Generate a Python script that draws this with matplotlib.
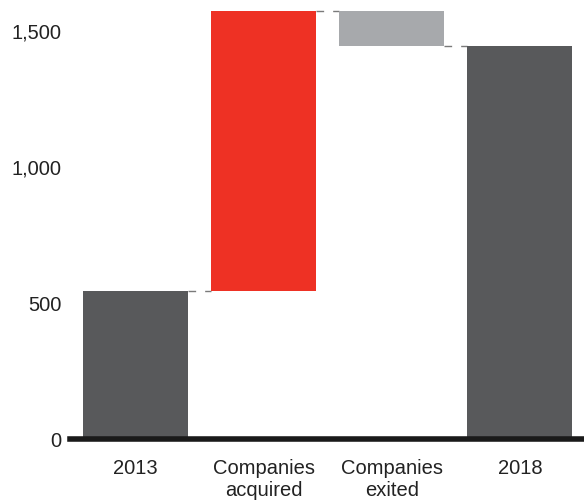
import matplotlib.pyplot as plt

plt.rcParams["font.family"] = ["Liberation Sans", "DejaVu Sans"]

# waterfall steps: start, increase, decrease, end
categories = ["2013", "Companies\nacquired", "Companies\nexited", "2018"]
changes = [545, 1030, -130]
end_total = 1445
colors = ["#58595b", "#ee3124", "#a7a9ac", "#58595b"]
yticks = [0, 500, 1000, 1500]


def main():
    fig = plt.figure(figsize=(5.84, 5.04), dpi=100)
    ax = fig.add_axes([0.12, 0.128, 0.88, 0.864])

    # bottoms and heights for each bar
    running = 0
    bottoms, heights = [], []
    for ch in changes:
        if ch >= 0:
            bottoms.append(running)
            heights.append(ch)
        else:
            bottoms.append(running + ch)
            heights.append(-ch)
        running += ch
    bottoms.append(0)
    heights.append(end_total)

    x = list(range(len(categories)))
    width = 0.82
    ax.bar(x, heights, bottom=bottoms, width=width, color=colors, zorder=2)

    # dashed connectors between consecutive bars
    levels = []
    running = 0
    for ch in changes:
        running += ch
        levels.append(running)
    for i, lvl in enumerate(levels):
        ax.plot([i + width / 2, i + 1 - width / 2], [lvl, lvl],
                color="#7a7a7a", lw=1, dashes=(5.5, 6.5), zorder=1)

    ax.set_xlim(-0.51, 3.5)
    ax.set_ylim(0, 1600)
    ax.set_yticks(yticks)
    ax.set_yticklabels([f"{v:,}" for v in yticks])
    ax.set_xticks(x)
    ax.set_xticklabels(categories, linespacing=1.2)
    ax.tick_params(axis="y", length=0, pad=6, labelsize=14.5, colors="#222222")
    ax.tick_params(axis="x", length=0, pad=14, labelsize=14.5, colors="#222222")

    for side in ["top", "right", "left"]:
        ax.spines[side].set_visible(False)
    ax.spines["bottom"].set_linewidth(4)
    ax.spines["bottom"].set_color("#1a1a1a")
    ax.spines["bottom"].set_zorder(3)

    fig.savefig("out.png", dpi=100)
    plt.close(fig)


if __name__ == "__main__":
    main()
